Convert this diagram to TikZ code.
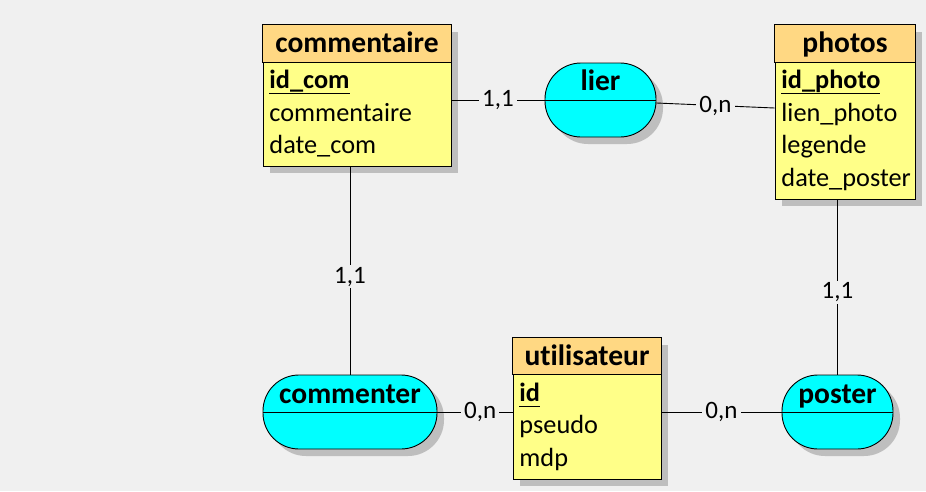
\documentclass[tikz,border=0pt]{standalone}
\usepackage{fontspec}
\setmainfont{Carlito}[Ligatures={NoCommon}]
\usetikzlibrary{shadows,calc}
\definecolor{bgc}{HTML}{F0F0F0}
\definecolor{hdrc}{HTML}{FFD883}
\definecolor{bodyc}{HTML}{FFFF88}
\definecolor{relc}{HTML}{00FFFF}
\definecolor{shc}{HTML}{BEBEBE}
\newcommand\keyul[1]{\setbox0\hbox{#1}\rlap{\rule[-6pt]{\wd0}{1.3pt}}\box0}
\begin{document}
\begin{tikzpicture}[x=1pt,y=-1pt,
  line width=0.9pt,
  shad/.style={drop shadow={shadow xshift=7pt,shadow yshift=-7pt,fill=shc,opacity=1}},
  entbox/.style={draw,fill=bodyc,shad,inner sep=0pt},
  hdr/.style={draw,fill=hdrc},
  relbox/.style={draw,fill=relc,shad,inner sep=0pt,rounded corners=36pt,minimum height=74pt},
  etitle/.style={font=\fontsize{29.5}{33}\selectfont\bfseries,anchor=base,inner sep=0pt},
  attr/.style={font=\fontsize{26.3}{30}\selectfont,anchor=base west,inner sep=0pt},
  card/.style={font=\fontsize{25}{30}\selectfont,fill=bgc,inner xsep=3pt,inner ysep=2pt,text height=16pt,text depth=3pt}
]
\fill[bgc] (0,0) rectangle (926,491);
\useasboundingbox (0,0) rectangle (926,491);

% entities
\node[entbox,minimum width=188pt,minimum height=141pt] (com) at (357,95.5) {};
\path[hdr] (com.north west) rectangle ([yshift=-38pt]com.north east);
\node[etitle] (comt) at ([yshift=-28pt]com.north) {commentaire};
\node[attr] (coma1) at (269,88) {\keyul{\bfseries id\_com}};
\node[attr] (coma2) at (269,121) {commentaire};
\node[attr] (coma3) at (269,153.5) {date\_com};

\node[entbox,minimum width=140pt,minimum height=174pt] (pho) at (845,112) {};
\path[hdr] (pho.north west) rectangle ([yshift=-38pt]pho.north east);
\node[etitle] (phot) at ([yshift=-28pt]pho.north) {photos};
\node[attr] (phoa1) at (781,88) {\keyul{\bfseries id\_photo}};
\node[attr] (phoa2) at (781,121) {lien\_photo};
\node[attr] (phoa3) at (781,153.5) {legende};
\node[attr] (phoa4) at (781,186) {date\_poster};

\node[entbox,minimum width=148pt,minimum height=141pt] (uti) at (587,408.5) {};
\path[hdr] (uti.north west) rectangle ([yshift=-37pt]uti.north east);
\node[etitle] (utit) at ([yshift=-28pt]uti.north) {utilisateur};
\node[attr] (utia1) at (519,401) {\keyul{\bfseries id}};
\node[attr] (utia2) at (519,433.5) {pseudo};
\node[attr] (utia3) at (519,466) {mdp};

% relations
\node[relbox,minimum width=111pt] (lier) at (600.5,100) {};
\draw (lier.west) -- (lier.east);
\node[etitle] (liert) at (600.5,90) {lier};

\node[relbox,minimum width=174pt] (cmt) at (350,412) {};
\draw (cmt.west) -- (cmt.east);
\node[etitle] (cmtt) at (350,403) {commenter};

\node[relbox,minimum width=111pt] (pst) at (837.5,412) {};
\draw (pst.west) -- (pst.east);
\node[etitle] (pstt) at (837.5,403) {poster};

% connectors
\coordinate (phy) at (0,108);
\draw (com.east |- lier.west) -- node[card]{1,1} (lier.west);
\draw ([yshift=-3pt]lier.east) -- node[card]{0,n} (pho.west |- phy);
\draw (com.south -| cmt.north) -- node[card,pos=0.53]{1,1} (cmt.north);
\draw (pho.south -| pst.north) -- node[card,pos=0.53]{1,1} (pst.north);
\draw (cmt.east) -- node[card,pos=0.57]{0,n} (uti.west |- cmt.east);
\draw (uti.east |- pst.west) -- node[card]{0,n} (pst.west);
\end{tikzpicture}
\end{document}
